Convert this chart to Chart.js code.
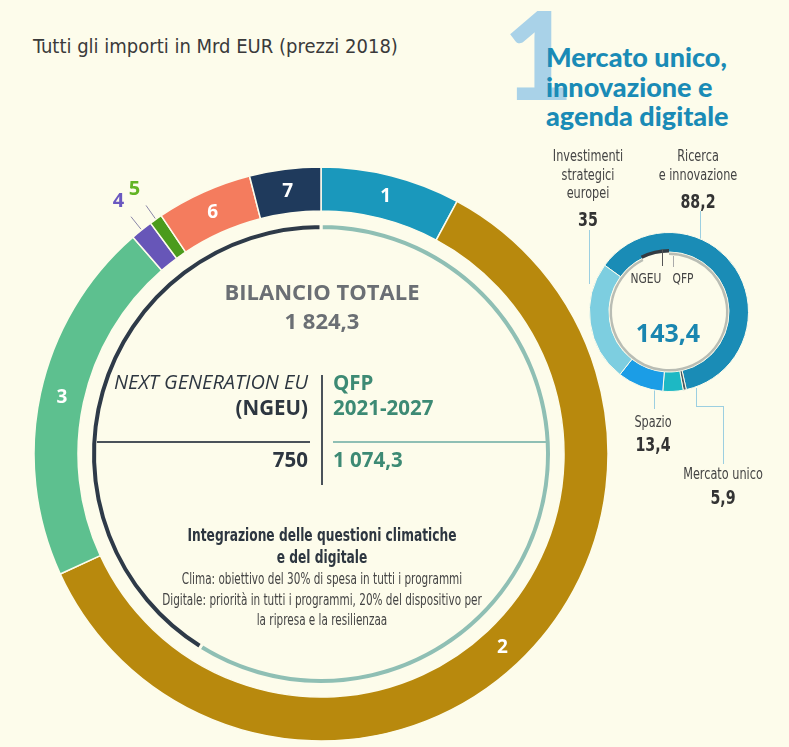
<!DOCTYPE html>
<html lang="it">
<head>
<meta charset="utf-8">
<script src="https://cdn.jsdelivr.net/npm/chart.js@4.4.1/dist/chart.umd.min.js"></script>
<style>
  html, body { margin: 0; padding: 0; background: #FDFCEB; }
  #page { position: relative; width: 789px; height: 747px; overflow: hidden; background: #FDFCEB; }
  canvas { position: absolute; }
  .t { position: absolute; white-space: nowrap; }
  .c { transform: translateX(-50%); text-align: center; }
  .r { transform: translateX(-100%); text-align: right; }
  /* testi stretti: il font condensato del riferimento non c'è, si comprime in orizzontale */
  .n { font-family: "DejaVu Sans Condensed", "Liberation Sans Narrow", sans-serif; transform-origin: center; }
  .sans { font-family: "Open Sans", sans-serif; }
  .ln { position: absolute; }
</style>
</head>
<body>
<div id="page">
  <div class="t n" style="left:33px; top:33px; font-size:20px; line-height:26px; color:#3a3a3a; transform-origin:left;">Tutti gli importi in Mrd EUR (prezzi 2018)</div>

  <div class="t" style="left:503px; top:-8px; font:900 122px/122px Lato, sans-serif; color:#A9D2E8;">1</div>
  <div class="t" style="left:546px; top:42px; font:900 27px/29.5px Lato, sans-serif; color:#1A8BB6;">Mercato unico,<br>innovazione e<br>agenda digitale</div>

  <canvas id="budgetChart" width="580" height="580" style="left:31px; top:164px;"></canvas>
  <canvas id="fundChart" width="580" height="580" style="left:31px; top:164px;"></canvas>

  <!-- centro del grafico principale -->
  <div class="t c sans" style="left:322px; top:277px; font-weight:700; font-size:22px; line-height:28px; color:#6B6F74;">BILANCIO TOTALE</div>
  <div class="t c sans" style="left:322px; top:306px; font-weight:700; font-size:22px; line-height:28px; color:#6B6F74;">1 824,3</div>

  <div class="t r sans" style="left:308px; top:369px; font-style:italic; font-size:20px; line-height:26px; color:#2D3640;">NEXT GENERATION EU</div>
  <div class="t r sans" style="left:308px; top:394px; font-weight:700; font-size:20.5px; line-height:26px; color:#2D3640;">(NGEU)</div>
  <div class="t sans" style="left:333px; top:369px; font-weight:700; font-size:20.5px; line-height:26px; color:#3D8A74;">QFP</div>
  <div class="t sans" style="left:333px; top:394px; font-weight:700; font-size:20.5px; line-height:26px; color:#3D8A74;">2021-2027</div>
  <div class="t r sans" style="left:308px; top:446px; font-weight:700; font-size:20.5px; line-height:26px; color:#2D3640;">750</div>
  <div class="t sans" style="left:333px; top:446px; font-weight:700; font-size:20.5px; line-height:26px; color:#3D8A74;">1 074,3</div>

  <div class="ln" style="left:321px; top:375px; width:2px; height:110px; background:#4A525A;"></div>
  <div class="ln" style="left:97px; top:441px; width:213px; height:2px; background:#4A525A;"></div>
  <div class="ln" style="left:333px; top:441px; width:214px; height:2px; background:#8FBFB4;"></div>

  <div class="t n" style="left:322px; top:524px; transform:translateX(-50%) scaleX(0.8); text-align:center; font-weight:700; font-size:17px; line-height:22px; color:#2D3640;">Integrazione delle questioni climatiche<br>e del digitale</div>
  <div class="t n" style="left:322px; top:569px; transform:translateX(-50%) scaleX(0.775); text-align:center; font-size:15px; line-height:20.5px; color:#444;">Clima: obiettivo del 30% di spesa in tutti i programmi<br>Digitale: priorità in tutti i programmi, 20% del dispositivo per<br>la ripresa e la resilienzaa</div>

  <!-- rubrica 1 -->
  <div class="ln" style="left:589px; top:230px; width:1px; height:54px; background:#9CCFE1;"></div>
  <div class="ln" style="left:700px; top:211px; width:1px; height:28px; background:#9CCFE1;"></div>
  <div class="ln" style="left:654px; top:388px; width:1px; height:21px; background:#9CCFE1;"></div>
  <div class="ln" style="left:696px; top:388px; width:1px; height:19px; background:#9CCFE1;"></div>
  <div class="ln" style="left:696px; top:406px; width:28px; height:1px; background:#9CCFE1;"></div>
  <div class="ln" style="left:723px; top:406px; width:1px; height:58px; background:#9CCFE1;"></div>

  <canvas id="h1Chart" width="170" height="170" style="left:584px; top:227px;"></canvas>
  <canvas id="h1FundChart" width="170" height="170" style="left:584px; top:227px;"></canvas>

  <div class="ln" style="left:662px; top:249px; width:1px; height:17px; background:#555;"></div>
  <div class="ln" style="left:673px; top:256px; width:1px; height:11px; background:#aaa;"></div>
  <div class="t n" style="left:646px; top:268px; transform:translateX(-50%) scaleX(0.82); font-size:14.5px; line-height:20px; color:#444;">NGEU</div>
  <div class="t n" style="left:683px; top:268px; transform:translateX(-50%) scaleX(0.82); font-size:14.5px; line-height:20px; color:#444;">QFP</div>
  <div class="t c sans" style="left:668px; top:316px; font-weight:700; font-size:25px; line-height:32px; color:#1A86B0;">143,4</div>

  <div class="t n" style="left:588px; top:147px; transform:translateX(-50%) scaleX(0.81); text-align:center; font-size:15.5px; line-height:18.5px; color:#444;">Investimenti<br>strategici<br>europei</div>
  <div class="t n" style="left:588px; top:207px; transform:translateX(-50%) scaleX(0.79); font-weight:700; font-size:20px; line-height:24px; color:#333;">35</div>
  <div class="t n" style="left:698px; top:147px; transform:translateX(-50%) scaleX(0.81); text-align:center; font-size:15.5px; line-height:18.5px; color:#444;">Ricerca<br>e innovazione</div>
  <div class="t n" style="left:698px; top:189px; transform:translateX(-50%) scaleX(0.79); font-weight:700; font-size:20px; line-height:24px; color:#333;">88,2</div>
  <div class="t n" style="left:653px; top:412px; transform:translateX(-50%) scaleX(0.81); font-size:15.5px; line-height:20px; color:#444;">Spazio</div>
  <div class="t n" style="left:653px; top:432px; transform:translateX(-50%) scaleX(0.79); font-weight:700; font-size:20px; line-height:24px; color:#333;">13,4</div>
  <div class="t n" style="left:723px; top:464px; transform:translateX(-50%) scaleX(0.81); font-size:15.5px; line-height:20px; color:#444;">Mercato unico</div>
  <div class="t n" style="left:723px; top:485px; transform:translateX(-50%) scaleX(0.79); font-weight:700; font-size:20px; line-height:24px; color:#333;">5,9</div>
</div>

<script>
// Bilancio UE 2021-2027 + NGEU, Mrd EUR (prezzi 2018)
const headings = ["1", "2", "3", "4", "5", "6", "7"];
const headingTotals = [143.4, 1099.7, 373.9, 22.7, 13.2, 98.4, 73.1];

const funds = ["QFP 2021-2027", "NGEU"];
const fundTotals = [1074.3, 750];

// rubrica 1: Mercato unico, innovazione e agenda digitale
const h1Parts = ["Ricerca e innovazione", "Altro", "Mercato unico", "Spazio", "Investimenti strategici europei"];
const h1Values = [88.2, 0.9, 5.9, 13.4, 35];
const h1Funds = ["NGEU", "QFP"];
const h1FundValues = [10.6, 132.8];

const bg = "#FDFCEB";
const headingColors = ["#1A98BC", "#B8890D", "#5DC08F", "#6756B8", "#4B9B1C", "#F47C5E", "#1F3A5C"];
const outsideColors = { 3: "#6A58C0", 4: "#62B424" };
const h1Colors = ["#1A8CB6", "#4A5A62", "#1DB8C4", "#1B9DE6", "#7DCEE0"];

const headingLabels = {
  id: "headingLabels",
  afterDatasetsDraw(chart) {
    let ctx = chart.ctx;
    ctx.save();
    ctx.textAlign = "center";
    ctx.textBaseline = "middle";
    chart.getDatasetMeta(0).data.forEach((arc, i) => {
      let mid = (arc.startAngle + arc.endAngle) / 2;
      let cos = Math.cos(mid), sin = Math.sin(mid);
      if (outsideColors[i]) {
        let r0 = arc.outerRadius + 1, r1 = arc.outerRadius + 17, r2 = arc.outerRadius + 37;
        ctx.strokeStyle = "#8a86a8";
        ctx.lineWidth = 1;
        ctx.beginPath();
        ctx.moveTo(arc.x + cos * r0, arc.y + sin * r0);
        ctx.lineTo(arc.x + cos * r1, arc.y + sin * r1);
        ctx.stroke();
        ctx.font = "bold 20px 'Open Sans'";
        ctx.fillStyle = outsideColors[i];
        ctx.fillText(headings[i], arc.x + cos * r2, arc.y + sin * r2);
      } else {
        let r = (arc.innerRadius + arc.outerRadius) / 2;
        ctx.font = "bold 19px 'Open Sans'";
        ctx.fillStyle = "#ffffff";
        ctx.fillText(headings[i], arc.x + cos * r, arc.y + sin * r);
      }
    });
    ctx.restore();
  }
};

function ringOptions(radius, inner, rotation) {
  return {
    responsive: false,
    animation: false,
    events: [],
    radius: radius,
    cutout: (inner / radius * 100) + "%",
    rotation: rotation,
    layout: { padding: 0 },
    plugins: { legend: { display: false }, tooltip: { enabled: false } }
  };
}

new Chart(document.getElementById("budgetChart"), {
  type: "doughnut",
  data: {
    labels: headings,
    datasets: [{ data: headingTotals, backgroundColor: headingColors, borderColor: bg, borderWidth: 1.5 }]
  },
  options: ringOptions(287, 243, 0),
  plugins: [headingLabels]
});

new Chart(document.getElementById("fundChart"), {
  type: "doughnut",
  data: {
    labels: funds,
    datasets: [{ data: fundTotals, backgroundColor: ["#8FBFB4", "#2E3A48"], borderColor: bg, borderWidth: 3 }]
  },
  options: ringOptions(230.5, 223.5, 0)
});

new Chart(document.getElementById("h1Chart"), {
  type: "doughnut",
  data: {
    labels: h1Parts,
    datasets: [{ data: h1Values, backgroundColor: h1Colors, borderColor: bg, borderWidth: 1 }]
  },
  options: ringOptions(79.5, 60, -54)
});

let h1Total = h1FundValues[0] + h1FundValues[1];
new Chart(document.getElementById("h1FundChart"), {
  type: "doughnut",
  data: {
    labels: h1Funds,
    datasets: [
      { data: h1FundValues, backgroundColor: ["#333B42", "rgba(0,0,0,0)"], borderWidth: 0, weight: 3.5 },
      { data: h1FundValues, backgroundColor: ["rgba(0,0,0,0)", "#B9BDB4"], borderWidth: 0, weight: 2.5 }
    ]
  },
  options: ringOptions(63, 57, -h1FundValues[0] / h1Total * 360)
});
</script>
</body>
</html>
